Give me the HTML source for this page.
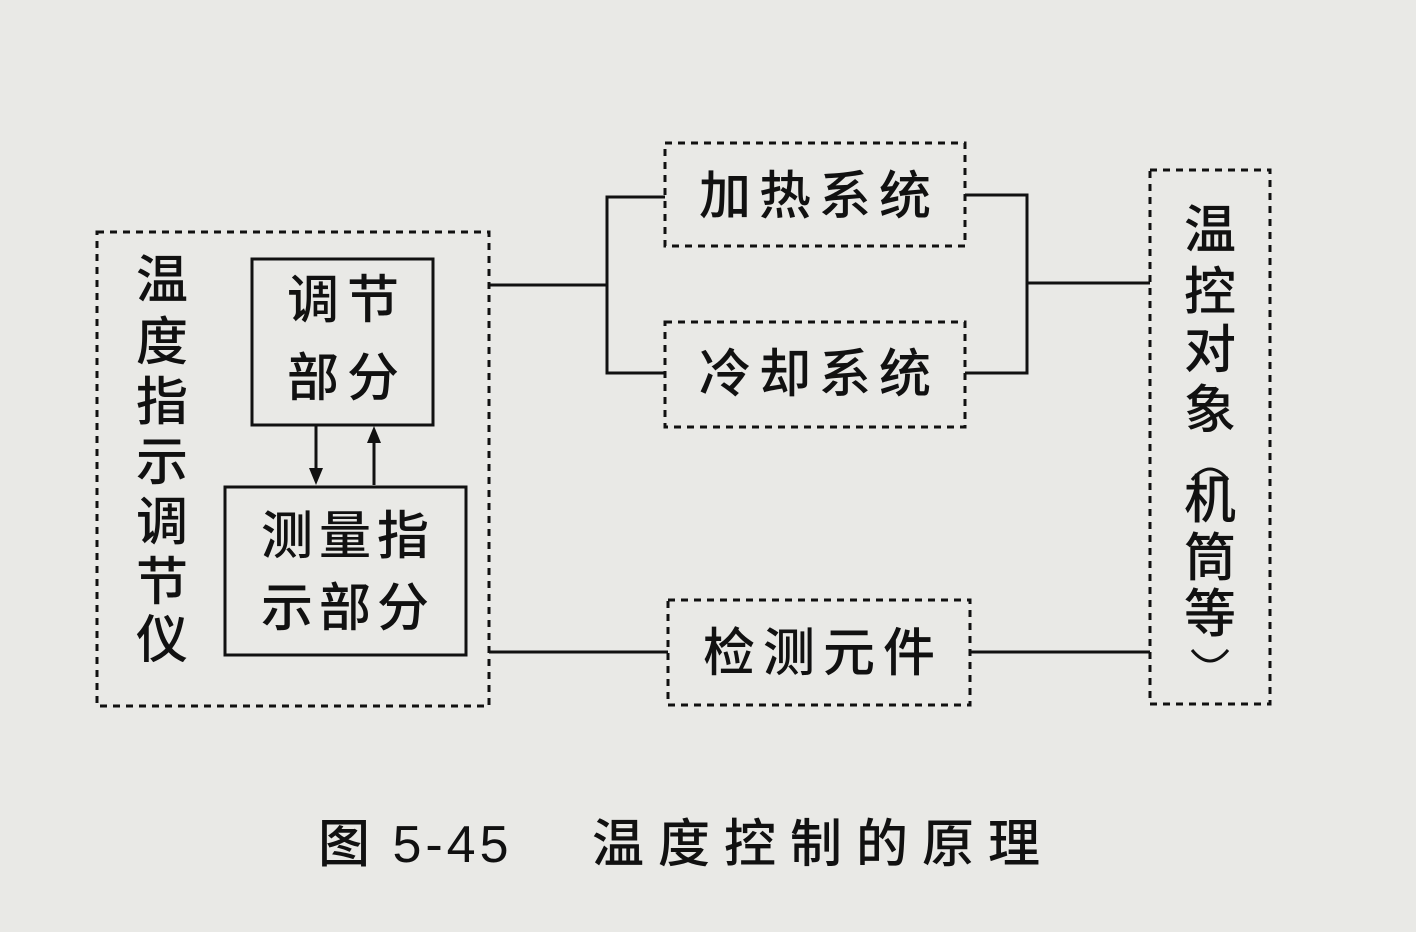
<!DOCTYPE html>
<html><head><meta charset="utf-8"><style>
html,body{margin:0;padding:0;background:#e9e9e6;}
svg{display:block}
text{font-family:"Liberation Sans","Noto Sans CJK SC",sans-serif;fill:#111;font-weight:500;}
</style></head><body>
<svg width="1416" height="932" viewBox="0 0 1416 932" xmlns="http://www.w3.org/2000/svg">
<rect width="1416" height="932" fill="#e9e9e6"/>
<g fill="none" stroke="#111" stroke-width="3" stroke-dasharray="7 6">
<rect x="97" y="232" width="392" height="474"/>
<rect x="665" y="143" width="300" height="103"/>
<rect x="665" y="322" width="300" height="105"/>
<rect x="668" y="600" width="302" height="105"/>
<rect x="1150" y="170" width="120" height="534"/>
</g>
<g fill="none" stroke="#111" stroke-width="3">
<rect x="252" y="259" width="181" height="166"/>
<rect x="225" y="487" width="241" height="168"/>
<polyline points="489,285 607,285"/>
<polyline points="665,197 607,197 607,373 665,373"/>
<polyline points="965,195 1027,195 1027,373 965,373"/>
<polyline points="1027,283 1150,283"/>
<polyline points="489,652 668,652"/>
<polyline points="970,652 1150,652"/>
<line x1="316" y1="425" x2="316" y2="472"/>
<line x1="374" y1="485" x2="374" y2="440"/>
</g>
<polygon points="309,468 323,468 316,485" fill="#111"/>
<polygon points="367,443 381,443 374,426" fill="#111"/>
<g font-size="52" text-anchor="middle">
<text x="162" y="298">温</text>
<text x="162" y="360">度</text>
<text x="162" y="420">指</text>
<text x="162" y="480">示</text>
<text x="162" y="540">调</text>
<text x="162" y="600">节</text>
<text x="162" y="658">仪</text>
<text x="347" y="318" letter-spacing="8">调节</text>
<text x="347" y="396" letter-spacing="8">部分</text>
<text x="348" y="554" letter-spacing="6">测量指</text>
<text x="348" y="626" letter-spacing="6">示部分</text>
<text x="819" y="214" letter-spacing="8">加热系统</text>
<text x="819" y="392" letter-spacing="8">冷却系统</text>
<text x="823" y="671" letter-spacing="8">检测元件</text>
<text x="1210" y="248">温</text>
<text x="1210" y="310">控</text>
<text x="1210" y="368">对</text>
<text x="1210" y="428">象</text>
<text x="1210" y="518">机</text>
<text x="1210" y="576">筒</text>
<text x="1210" y="632">等</text>
</g>
<g fill="none" stroke="#111" stroke-width="3">
<path d="M1192,480 Q1210,458 1228,480"/>
<path d="M1192,650 Q1210,672 1228,650"/>
</g>
<text x="318" y="862" font-size="52" letter-spacing="4">图 5-45</text>
<text x="592" y="862" font-size="52" letter-spacing="14">温度控制的原理</text>
</svg>
</body></html>
